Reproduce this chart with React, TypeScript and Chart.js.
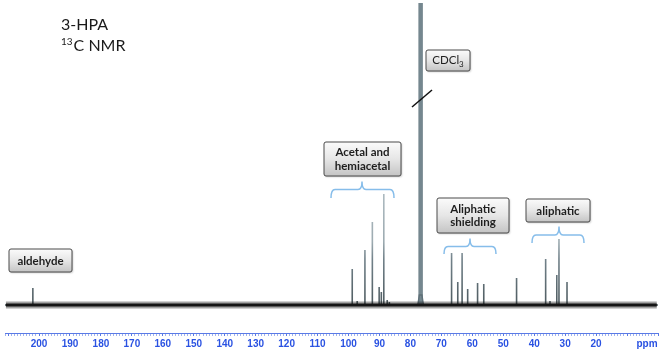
import React, { useEffect, useRef } from "react";
import { Chart, registerables } from "chart.js";
Chart.register(...registerables);

// Chemical shifts (ppm) and peak intensities (arbitrary units)
const peakPpm = [202.0, 98.8, 97.2, 94.7, 92.3, 90.1, 89.4, 88.6, 87.5, 86.8, 66.7, 64.7, 63.3, 61.5, 58.3, 56.3, 45.7, 36.3, 34.9, 32.7, 32.0, 29.4];
const peakHeight = [17, 36, 4, 55, 83, 18, 13, 111, 5, 3, 52, 23, 52, 16, 22, 21, 27, 46, 4, 30, 66, 23];
const solventPpm = [77.6, 77.1, 76.7, 76.3, 75.8];
const solventHeight = [0, 10, 400, 10, 0];
const axisLabels = [200, 190, 180, 170, 160, 150, 140, 130, 120, 110, 100, 90, 80, 70, 60, 50, 40, 30, 20];
const ppmMin = 0;
const ppmMax = 211;

const BLUE = "#2a52e2";
const AXIS_BLUE = "#5a7ae6";
const BRACE = "#86bdea";

function drawBox(ctx: CanvasRenderingContext2D, x: number, y: number, w: number, h: number) {
  ctx.save();
  ctx.shadowColor = "rgba(0,0,0,0.25)";
  ctx.shadowBlur = 2;
  ctx.shadowOffsetX = 1;
  ctx.shadowOffsetY = 1;
  const g = ctx.createLinearGradient(0, y, 0, y + h);
  g.addColorStop(0, "#fbfbfb");
  g.addColorStop(0.5, "#e6e6e6");
  g.addColorStop(1, "#c4c4c4");
  ctx.fillStyle = g;
  ctx.beginPath();
  const r = 2;
  ctx.moveTo(x + r, y);
  ctx.lineTo(x + w - r, y);
  ctx.quadraticCurveTo(x + w, y, x + w, y + r);
  ctx.lineTo(x + w, y + h - r);
  ctx.quadraticCurveTo(x + w, y + h, x + w - r, y + h);
  ctx.lineTo(x + r, y + h);
  ctx.quadraticCurveTo(x, y + h, x, y + h - r);
  ctx.lineTo(x, y + r);
  ctx.quadraticCurveTo(x, y, x + r, y);
  ctx.closePath();
  ctx.fill();
  ctx.restore();
  ctx.save();
  ctx.strokeStyle = "#4a4a4a";
  ctx.lineWidth = 1;
  ctx.stroke();
  ctx.restore();
}

function drawBrace(ctx: CanvasRenderingContext2D, x1: number, x2: number, cx: number, yLine: number, yEnd: number, yTip: number) {
  const r = 4;
  ctx.save();
  ctx.strokeStyle = BRACE;
  ctx.lineWidth = 1.5;
  ctx.beginPath();
  ctx.moveTo(x1, yEnd);
  ctx.quadraticCurveTo(x1, yLine, x1 + r, yLine);
  ctx.lineTo(cx - r, yLine);
  ctx.quadraticCurveTo(cx, yLine, cx, yTip);
  ctx.quadraticCurveTo(cx, yLine, cx + r, yLine);
  ctx.lineTo(x2 - r, yLine);
  ctx.quadraticCurveTo(x2, yLine, x2, yEnd);
  ctx.stroke();
  ctx.restore();
}

const annotationPlugin = {
  id: "nmrAnnotations",
  afterDatasetsDraw(chart: any) {
    const ctx: CanvasRenderingContext2D = chart.ctx;
    ctx.save();
    // solvent truncation mark
    ctx.strokeStyle = "#111";
    ctx.lineWidth = 1.5;
    ctx.beginPath();
    ctx.moveTo(412, 107);
    ctx.lineTo(432, 90);
    ctx.stroke();

    // title
    ctx.fillStyle = "#1a1a1a";
    ctx.textBaseline = "alphabetic";
    ctx.textAlign = "left";
    ctx.font = "16px Lato, 'Open Sans', sans-serif";
    ctx.fillText("3-HPA", 61, 30);
    ctx.font = "10px Lato, 'Open Sans', sans-serif";
    ctx.fillText("13", 61, 45);
    const w13 = ctx.measureText("13").width;
    ctx.font = "16px Lato, 'Open Sans', sans-serif";
    ctx.fillText("C NMR", 61 + w13 + 1, 51);

    // braces
    drawBrace(ctx, 331, 394, 362, 189.5, 198, 181.5);
    drawBrace(ctx, 444, 496, 470, 246.5, 254, 238.5);
    drawBrace(ctx, 532, 584, 559, 235, 243, 226.5);

    // boxes
    const boxFont = "bold 11.5px Lato, 'Open Sans', sans-serif";
    const boxes: [number, number, number, number, string[]][] = [
      [9, 249, 63, 23, ["aldehyde"]],
      [324, 142, 77, 34, ["Acetal and", "hemiacetal"]],
      [437, 198, 72, 35, ["Aliphatic", "shielding"]],
      [526, 199, 64, 23, ["aliphatic"]],
    ];
    for (const [x, y, w, h, lines] of boxes) {
      drawBox(ctx, x, y, w, h);
      ctx.fillStyle = "#1e1e1e";
      ctx.font = boxFont;
      ctx.textAlign = "center";
      ctx.textBaseline = "middle";
      const lh = 13.5;
      const startY = y + h / 2 - ((lines.length - 1) * lh) / 2;
      lines.forEach((t, i) => ctx.fillText(t, x + w / 2, startY + i * lh + 0.5));
    }
    // CDCl3 box
    drawBox(ctx, 426, 50, 44, 21);
    ctx.fillStyle = "#1e1e1e";
    ctx.textAlign = "left";
    ctx.textBaseline = "middle";
    ctx.font = "11.5px Lato, 'Open Sans', sans-serif";
    const tw = ctx.measureText("CDCl").width;
    ctx.font = "8px Lato, 'Open Sans', sans-serif";
    const sw = ctx.measureText("3").width;
    const sx = 426 + 22 - (tw + sw) / 2;
    ctx.font = "11.5px Lato, 'Open Sans', sans-serif";
    ctx.fillText("CDCl", sx, 60.5);
    ctx.font = "8px Lato, 'Open Sans', sans-serif";
    ctx.fillText("3", sx + tw, 64);

    // axis unit
    ctx.fillStyle = BLUE;
    ctx.font = "bold 10px 'Liberation Sans', Arial, sans-serif";
    ctx.textAlign = "center";
    ctx.textBaseline = "middle";
    ctx.fillText("ppm", 647, 344.5);
    ctx.restore();
  },
};

export default function App() {
  const ref = useRef<HTMLCanvasElement | null>(null);
  useEffect(() => {
    if (!ref.current) return;
    const spectrum: { x: number; y: number }[] = [{ x: ppmMax, y: 0 }];
    peakPpm.forEach((p, i) => {
      spectrum.push({ x: p, y: 0 }, { x: p, y: peakHeight[i] }, { x: p, y: 0 });
    });
    spectrum.push({ x: ppmMin, y: 0 });
    const solventBase = solventPpm.map((p, i) => ({ x: p, y: Math.min(solventHeight[i], 10) }));
    const solventLine = [
      { x: solventPpm[2], y: 0 },
      { x: solventPpm[2], y: solventHeight[2] },
    ];
    const baseline = [{ x: 210.7, y: 0 }, { x: 0.4, y: 0 }];

    const peakColor = (c: any) => {
      const chart = c.chart;
      const area = chart.chartArea;
      if (!area) return "#7d8f97";
      const ys = chart.scales.y;
      const y0 = ys.getPixelForValue(0);
      const g = chart.ctx.createLinearGradient(0, y0 - 115, 0, y0);
      g.addColorStop(0, "#aebbc1");
      g.addColorStop(0.45, "#9dabb1");
      g.addColorStop(0.6, "#72828a");
      g.addColorStop(1, "#4e5b60");
      return g;
    };

    const chart = new Chart(ref.current, {
      type: "line",
      data: {
        datasets: [
          { data: baseline, borderColor: "#151515", borderWidth: 3.2, pointRadius: 0, order: 0 },
          { data: baseline, borderColor: "rgba(25,25,25,0.4)", borderWidth: 7, pointRadius: 0, order: 1 },
          { data: spectrum, borderColor: peakColor, borderWidth: 1.6, pointRadius: 0, order: 2 },
          { data: solventBase, borderColor: "#5f7078", borderWidth: 1.5, pointRadius: 0, order: 3 },
          { data: solventLine, borderColor: "#75878f", borderWidth: 4.5, pointRadius: 0, order: 4 },
        ],
      },
      options: {
        responsive: false,
        animation: false,
        layout: { padding: { left: 5, right: 3, top: 3, bottom: 0 } },
        plugins: { legend: { display: false }, tooltip: { enabled: false } },
        elements: { line: { tension: 0 } },
        scales: {
          x: {
            type: "linear",
            reverse: true,
            min: ppmMin,
            max: ppmMax,
            ticks: {
              stepSize: 1,
              maxTicksLimit: 300,
              autoSkip: false,
              maxRotation: 0,
              minRotation: 0,
              padding: 2,
              color: BLUE,
              font: { family: "'Liberation Sans', Arial, sans-serif", weight: "bold", size: 10 },
              callback: (v: any) => (axisLabels.includes(Number(v)) ? String(v) : ""),
            },
            grid: {
              drawOnChartArea: false,
              drawTicks: true,
              tickLength: 3,
              color: (c: any) => (c.tick && c.tick.value % 10 === 0 ? AXIS_BLUE : "#9fb2ee"),
              lineWidth: 1,
            },
            border: { color: AXIS_BLUE, width: 1 },
          },
          y: { display: false, min: -28, max: 302 },
        },
      },
      plugins: [annotationPlugin],
    } as any);
    return () => chart.destroy();
  }, []);
  return (
    <div style={{ position: "absolute", left: 0, top: 0, width: 661, height: 352, background: "#fff" }}>
      <canvas ref={ref} width={661} height={352} />
    </div>
  );
}
